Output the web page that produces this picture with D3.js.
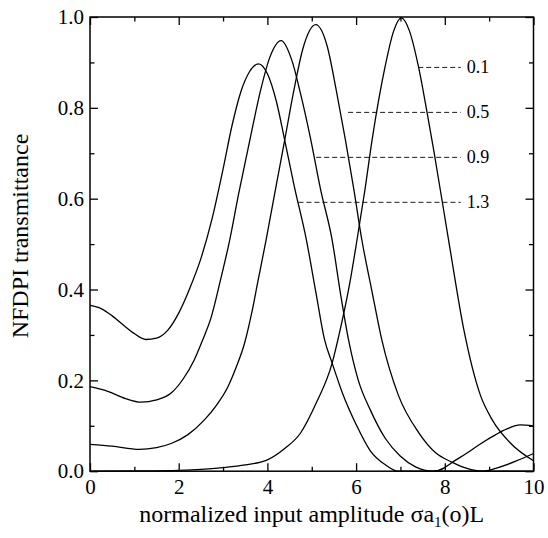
<!DOCTYPE html>
<html>
<head>
<meta charset="utf-8">
<script src="https://cdn.jsdelivr.net/npm/d3@7"></script>
<style>
  html, body { margin: 0; padding: 0; background: #fff; }
  svg { display: block; }
  text { font-family: "Liberation Serif", "Times New Roman", serif; fill: #000; }
</style>
</head>
<body>
<script>
// ---- data ----
const xMajorTicks = [0, 2, 4, 6, 8, 10];
const xMinorTicks = [1, 3, 5, 7, 9];
const yMajorTicks = [0, 0.2, 0.4, 0.6, 0.8, 1.0];
const yMinorTicks = [0.1, 0.3, 0.5, 0.7, 0.9];

const seriesNames = ["0.1", "0.5", "0.9", "1.3"];

const curve01 = [[0,0],[1,0.0005],[2,0.002],[2.5,0.004],[3,0.008],[3.5,0.014],[4.0,0.025],[4.39,0.05],[4.74,0.083],[5.1,0.15],[5.46,0.238],[5.64,0.311],[5.85,0.41],[6.02,0.509],[6.2,0.62],[6.36,0.729],[6.65,0.889],[6.85,0.97],[7.02,0.998],[7.2,0.97],[7.41,0.889],[7.6,0.79],[7.75,0.707],[8.1,0.5],[8.43,0.311],[8.8,0.168],[9.07,0.113],[9.5,0.06],[10,0.023]];

const curve05 = [[0,0.059],[0.5,0.055],[1.11,0.048],[1.5,0.052],[1.83,0.061],[2.2,0.08],[2.58,0.113],[2.85,0.145],[3.11,0.186],[3.3,0.23],[3.48,0.28],[3.65,0.35],[3.79,0.42],[3.97,0.509],[4.2,0.63],[4.39,0.729],[4.6,0.84],[4.8,0.93],[5.09,0.983],[5.35,0.935],[5.55,0.84],[5.76,0.729],[5.95,0.62],[6.13,0.509],[6.35,0.4],[6.58,0.289],[6.95,0.168],[7.41,0.085],[7.8,0.04],[8.16,0.02],[8.5,0.006],[8.84,0],[9.2,0.008],[9.6,0.022],[10,0.039]];

const curve09 = [[0,0.186],[0.4,0.176],[0.8,0.160],[1.15,0.152],[1.5,0.157],[1.83,0.172],[2.1,0.203],[2.35,0.245],[2.54,0.289],[2.73,0.338],[2.94,0.42],[3.15,0.509],[3.35,0.61],[3.6,0.727],[3.85,0.84],[4.05,0.91],[4.31,0.948],[4.55,0.905],[4.75,0.83],[4.98,0.729],[5.2,0.62],[5.46,0.509],[5.65,0.39],[5.83,0.289],[6.05,0.2],[6.32,0.135],[6.66,0.072],[7.0,0.033],[7.35,0.009],[7.72,0],[8.0,0.008],[8.13,0.017],[8.5,0.04],[8.8,0.06],[9.14,0.08],[9.4,0.093],[9.7,0.102],[10,0.100]];

const curve13 = [[0,0.365],[0.25,0.358],[0.5,0.342],[0.75,0.322],[1.0,0.303],[1.26,0.290],[1.5,0.293],[1.75,0.31],[2.0,0.348],[2.26,0.405],[2.5,0.468],[2.75,0.555],[3.0,0.665],[3.2,0.76],[3.4,0.835],[3.6,0.88],[3.8,0.897],[4.0,0.875],[4.2,0.815],[4.39,0.729],[4.6,0.63],[4.88,0.509],[5.1,0.39],[5.29,0.289],[5.46,0.238],[5.7,0.17],[6.0,0.103],[6.32,0.045],[6.66,0.014],[6.95,0.0],[7.5,0],[10,0]];

// leader (dashed) annotation lines: level, start x, end x
const leaderY = [0.889, 0.790, 0.691, 0.592];
const leaderX0 = [7.40, 5.82, 5.10, 4.70];
const leaderX1 = 8.36;

const xTitle = "normalized input amplitude ";
const yTitle = "NFDPI transmittance";

// ---- layout ----
const W = 548, H = 538;
const m = { left: 90, top: 17, right: 548 - 533.5, bottom: 538 - 471.2 };

const svg = d3.select("body").append("svg").attr("width", W).attr("height", H);

const x = d3.scaleLinear().domain([0, 10]).range([m.left, W - m.right]);
const y = d3.scaleLinear().domain([0, 1]).range([H - m.bottom, m.top]);

const g = svg.append("g");

// curves
const line = d3.line().x(d => x(d[0])).y(d => y(d[1])).curve(d3.curveMonotoneX);
[curve01, curve05, curve09, curve13].forEach(c => {
  g.append("path").datum(c).attr("d", line)
    .attr("fill", "none").attr("stroke", "#000").attr("stroke-width", 1.3);
});

// leaders + labels
leaderY.forEach((ly, i) => {
  g.append("line")
    .attr("x1", x(leaderX0[i])).attr("x2", x(leaderX1))
    .attr("y1", y(ly)).attr("y2", y(ly))
    .attr("stroke", "#000").attr("stroke-width", 0.9).attr("stroke-dasharray", "5,3");
  g.append("text")
    .attr("x", x(leaderX1) + 6).attr("y", y(ly))
    .attr("dominant-baseline", "central")
    .attr("font-size", 18)
    .text(seriesNames[i]);
});

// axes (ticks inward)
function styleAxis(sel) {
  sel.select(".domain").remove();
  sel.selectAll(".tick line").attr("stroke", "#000").attr("stroke-width", 1.3);
  sel.selectAll(".tick text").attr("font-size", 21).attr("font-family", "Liberation Serif, serif").attr("fill", "#000");
}
const xH = H - m.bottom, xT = m.top, yL = m.left, yR = W - m.right;

svg.append("g").attr("transform", `translate(0,${xH})`)
  .call(d3.axisBottom(x).tickValues(xMajorTicks).tickSize(-8).tickPadding(8).tickFormat(d3.format("d"))).call(styleAxis);
svg.append("g").attr("transform", `translate(0,${xH})`)
  .call(d3.axisBottom(x).tickValues(xMinorTicks).tickSize(-4.5).tickFormat("")).call(styleAxis);
svg.append("g").attr("transform", `translate(0,${xT})`)
  .call(d3.axisTop(x).tickValues(xMajorTicks).tickSize(-8).tickFormat("")).call(styleAxis);
svg.append("g").attr("transform", `translate(0,${xT})`)
  .call(d3.axisTop(x).tickValues(xMinorTicks).tickSize(-4.5).tickFormat("")).call(styleAxis);

svg.append("g").attr("transform", `translate(${yL},0)`)
  .call(d3.axisLeft(y).tickValues(yMajorTicks).tickSize(-8).tickPadding(6).tickFormat(d3.format(".1f"))).call(styleAxis);
svg.append("g").attr("transform", `translate(${yL},0)`)
  .call(d3.axisLeft(y).tickValues(yMinorTicks).tickSize(-4.5).tickFormat("")).call(styleAxis);
svg.append("g").attr("transform", `translate(${yR},0)`)
  .call(d3.axisRight(y).tickValues(yMajorTicks).tickSize(-8).tickFormat("")).call(styleAxis);
svg.append("g").attr("transform", `translate(${yR},0)`)
  .call(d3.axisRight(y).tickValues(yMinorTicks).tickSize(-4.5).tickFormat("")).call(styleAxis);

// frame
svg.append("rect")
  .attr("x", yL).attr("y", xT).attr("width", yR - yL).attr("height", xH - xT)
  .attr("fill", "none").attr("stroke", "#000").attr("stroke-width", 1.5);

// axis titles
const xt = svg.append("text")
  .attr("x", (yL + yR) / 2).attr("y", 522)
  .attr("text-anchor", "middle").attr("font-size", 24);
xt.append("tspan").text(xTitle + "\u03c3a");
xt.append("tspan").attr("font-size", 15).attr("dy", 5).text("1");
xt.append("tspan").attr("dy", -5).text("(o)L");

svg.append("text")
  .attr("transform", `translate(28,236) rotate(-90)`)
  .attr("text-anchor", "middle").attr("font-size", 24)
  .text(yTitle);
</script>
</body>
</html>
